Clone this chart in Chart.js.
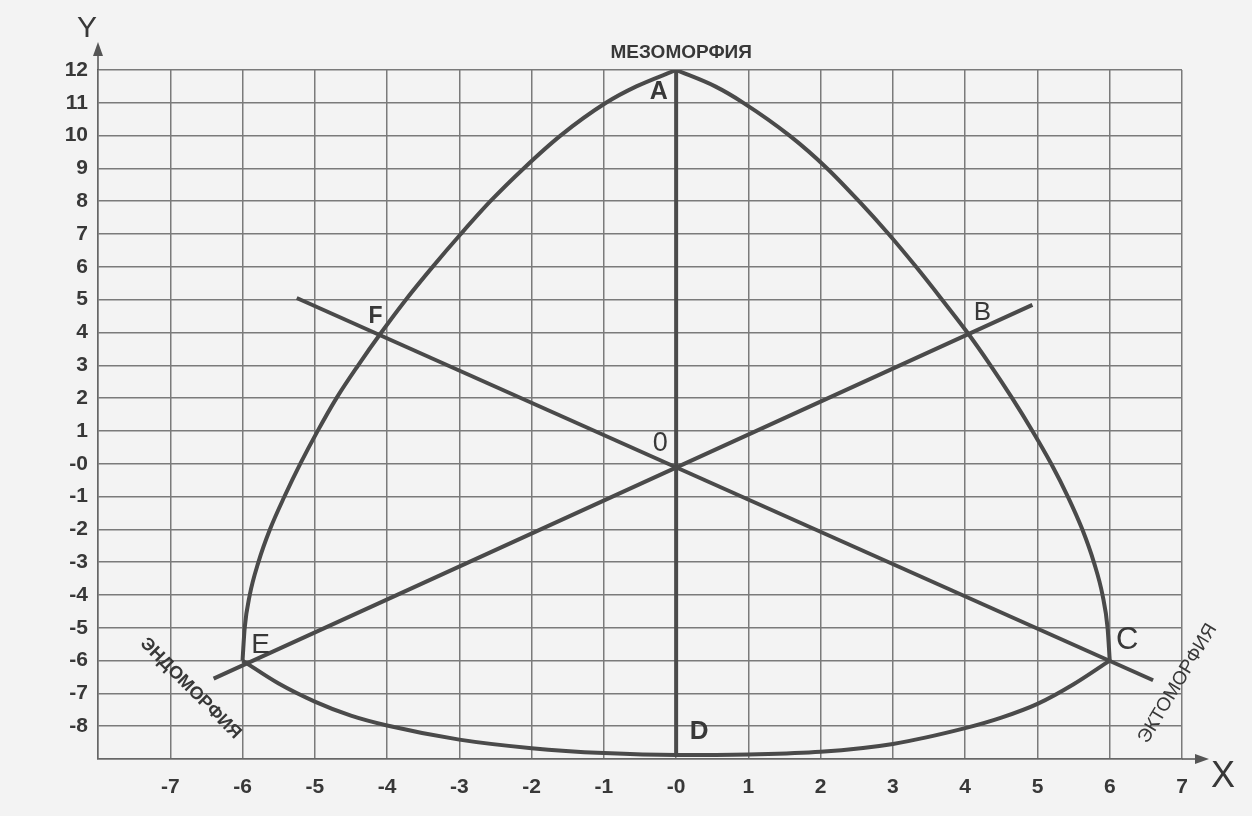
<!DOCTYPE html>
<html>
<head>
<meta charset="utf-8">
<script src="https://cdn.jsdelivr.net/npm/chart.js@4"></script>
<style>
  html, body { margin: 0; padding: 0; background: #f3f3f3; }
  canvas { display: block; }
</style>
</head>
<body>
<canvas id="somatoChart" width="1252" height="816"></canvas>
<script>
// tick labels (value -> text)
const xTickValues = [-8, -7, -6, -5, -4, -3, -2, -1, 0, 1, 2, 3, 4, 5, 6, 7];
const xTickLabels = ['', '-7', '-6', '-5', '-4', '-3', '-2', '-1', '-0', '1', '2', '3', '4', '5', '6', '7'];
const yTickValues = [-9, -8, -7, -6, -5, -4, -3, -2, -1, 0, 1, 2, 3, 4, 5, 6, 7, 8, 9, 10, 11, 12];
const yTickLabels = ['', '-8', '-7', '-6', '-5', '-4', '-3', '-2', '-1', '-0', '1', '2', '3', '4', '5', '6', '7', '8', '9', '10', '11', '12'];

// arc E -> A
const leftArcX = [-6, -5.97, -5.9, -5.78, -5.62, -5.42, -5.2, -4.96, -4.7, -4.4, -4.08, -3.74, -3.37, -2.98, -2.57, -2.11, -1.6, -0.97, -0.55, 0];
const leftArcY = [-6, -5, -4, -3, -2, -1, 0, 1, 2, 3, 4, 5, 6, 7, 8, 9, 10, 11, 11.5, 12];
// arc A -> C
const rightArcX = [0, 0.54, 0.93, 1.57, 2.09, 2.53, 2.94, 3.32, 3.68, 4.03, 4.35, 4.65, 4.93, 5.19, 5.42, 5.62, 5.78, 5.9, 5.97, 6];
const rightArcY = [12, 11.5, 11, 10, 9, 8, 7, 6, 5, 4, 3, 2, 1, 0, -1, -2, -3, -4, -5, -6];
// arc E -> D -> C
const bottomArcX = [-6, -5.5, -5, -4.5, -4, -3, -2, -1, 0, 1, 2, 3, 4, 4.5, 5, 5.5, 6];
const bottomArcY = [-6, -6.7, -7.25, -7.68, -7.98, -8.41, -8.67, -8.82, -8.88, -8.86, -8.78, -8.54, -8.06, -7.74, -7.32, -6.72, -6];
// straight lines
const lineEBX = [-6.4, 4.93];
const lineEBY = [-6.55, 4.84];
const lineFCX = [-5.25, 6.6];
const lineFCY = [5.05, -6.6];
const lineADX = [0, 0];
const lineADY = [12, -8.88];

const inkColor = '#4a4a4a';
const textColor = '#383838';
const fontFamily = '"Liberation Sans", Arial, sans-serif';

function toPoints(xs, ys) {
    return xs.map((x, i) => ({ x: x, y: ys[i] }));
}

function curve(xs, ys) {
    return {
        data: toPoints(xs, ys),
        showLine: true,
        borderColor: inkColor,
        borderWidth: 4,
        pointRadius: 0,
        cubicInterpolationMode: 'monotone',
        fill: false
    };
}

// letters and captions, placed in data coordinates
const annotations = {
    id: 'annotations',
    afterDraw(chart) {
        const c = chart.ctx;
        const xs = chart.scales.x;
        const ys = chart.scales.y;
        const area = chart.chartArea;
        const px = v => xs.getPixelForValue(v);
        const py = v => ys.getPixelForValue(v);

        c.save();
        c.fillStyle = '#555';
        c.strokeStyle = '#555';
        c.lineWidth = 1.5;

        // Y arrow
        c.beginPath();
        c.moveTo(area.left, area.top);
        c.lineTo(area.left, area.top - 18);
        c.stroke();
        c.beginPath();
        c.moveTo(area.left, area.top - 28);
        c.lineTo(area.left - 5, area.top - 14);
        c.lineTo(area.left + 5, area.top - 14);
        c.closePath();
        c.fill();

        // X arrow
        c.beginPath();
        c.moveTo(area.right, area.bottom);
        c.lineTo(area.right + 16, area.bottom);
        c.stroke();
        c.beginPath();
        c.moveTo(area.right + 27, area.bottom);
        c.lineTo(area.right + 13, area.bottom - 5);
        c.lineTo(area.right + 13, area.bottom + 5);
        c.closePath();
        c.fill();

        c.fillStyle = textColor;
        c.textAlign = 'center';
        c.textBaseline = 'middle';

        c.font = '30px ' + fontFamily;
        c.fillText('Y', area.left - 11, area.top - 41);
        c.font = '36px ' + fontFamily;
        c.fillText('X', area.right + 41, area.bottom + 18);

        const letters = [
            ['A', -0.24, 11.33, 'bold 25px '],
            ['B', 4.24, 4.6, '26px '],
            ['C', 6.24, -5.38, '31px '],
            ['D', 0.32, -8.18, 'bold 26px '],
            ['E', -5.75, -5.53, '28px '],
            ['F', -4.16, 4.47, 'bold 23px '],
            ['0', -0.22, 0.62, '27px ']
        ];
        letters.forEach(l => {
            c.font = l[3] + fontFamily;
            c.fillText(l[0], px(l[1]), py(l[2]));
        });

        c.font = 'bold 19px ' + fontFamily;
        c.fillText('МЕЗОМОРФИЯ', px(0.07), area.top - 17);

        c.save();
        c.translate(px(-6.72), py(-6.85));
        c.rotate(Math.PI / 4);
        c.font = 'bold 18px ' + fontFamily;
        c.fillText('ЭНДОМОРФИЯ', 0, 0);
        c.restore();

        c.save();
        c.translate(px(6.94), py(-6.7));
        c.rotate(-59 * Math.PI / 180);
        c.font = '19px ' + fontFamily;
        c.fillText('ЭКТОМОРФИЯ', 0, 0);
        c.restore();

        c.restore();
    }
};

const ctx = document.getElementById('somatoChart').getContext('2d');

new Chart(ctx, {
    type: 'scatter',
    data: {
        datasets: [
            curve(leftArcX, leftArcY),
            curve(rightArcX, rightArcY),
            curve(bottomArcX, bottomArcY),
            curve(lineEBX, lineEBY),
            curve(lineFCX, lineFCY),
            curve(lineADX, lineADY)
        ]
    },
    options: {
        responsive: false,
        animation: false,
        layout: { padding: { top: 70, right: 70, bottom: 0, left: 0 } },
        plugins: {
            legend: { display: false },
            tooltip: { enabled: false }
        },
        scales: {
            x: {
                type: 'linear',
                min: -8,
                max: 7,
                ticks: {
                    stepSize: 1,
                    autoSkip: false,
                    maxRotation: 0,
                    padding: 16,
                    color: textColor,
                    font: { family: fontFamily, size: 21, weight: 'bold' },
                    callback: v => xTickLabels[xTickValues.indexOf(v)]
                },
                grid: { color: '#7a7a7a', lineWidth: 1.5, drawTicks: false },
                border: { color: '#666', width: 1.5 },
                afterFit(scale) { scale.height = 57; }
            },
            y: {
                type: 'linear',
                min: -9,
                max: 12,
                ticks: {
                    stepSize: 1,
                    autoSkip: false,
                    maxTicksLimit: 30,
                    padding: 10,
                    color: textColor,
                    font: { family: fontFamily, size: 21, weight: 'bold' },
                    callback: v => yTickLabels[yTickValues.indexOf(v)]
                },
                grid: { color: '#7a7a7a', lineWidth: 1.5, drawTicks: false },
                border: { color: '#666', width: 1.5 },
                afterFit(scale) { scale.width = 98; }
            }
        }
    },
    plugins: [annotations]
});
</script>
</body>
</html>
